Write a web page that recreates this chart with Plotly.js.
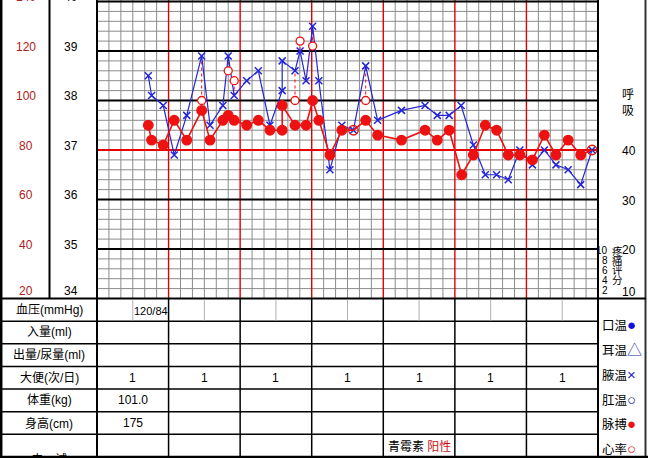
<!DOCTYPE html>
<html><head><meta charset="utf-8">
<script src="https://cdn.plot.ly/plotly-3.0.1.min.js"></script>
<style>html,body{margin:0;padding:0;background:#fff}#chart{width:648px;height:458px}</style>
</head><body><div id="chart"></div>
<script>
// ---------------- DATA ----------------
// time axis: hours since start of the 7-day sheet
const tempHours = [17.2,18.3,22.2,25.9,30.1,35.1,37.9,42.2,44.0,46.0,50.2,54.1,58.0,62.1,62.1,66.4,68.1,70.1,72.3,74.4,78.1,82.1,86.0,90.1,94.1,102.1,110.0,114.1,118.1,122.1,126.2,130.2,134.0,137.9,141.8,146.0,150.0,153.9,158.0,162.2,166.0];
const axillaryTemp = [38.5,38.1,37.9,36.9,37.7,38.9,37.5,37.9,38.9,38.1,38.4,38.6,37.5,38.2,38.8,38.6,39.0,38.4,39.5,38.4,36.6,37.5,37.4,38.7,37.6,37.8,37.9,37.7,37.7,37.9,37.1,36.5,36.5,36.4,37.0,36.7,37.0,36.7,36.6,36.3,37.0];

const pulseHours = [17.2,18.3,22.2,25.9,30.1,35.1,37.9,42.2,44.0,46.0,50.2,54.1,58.0,62.1,62.1,66.4,70.1,72.3,74.4,78.1,82.1,86.0,90.1,94.1,102.1,110.0,114.1,118.1,122.3,126.2,130.2,134.0,137.9,141.8,146.0,150.0,153.9,158.0,162.2,166.0];
const pulseRate = [90,84,82,92,84,96,84,92,94,92,90,92,88,88,98,90,90,100,92,78,88,88,92,86,84,88,84,88,70,78,90,88,78,78,76,86,78,84,78,80];

// temperature after physical cooling (red circles, dotted link to the reading before)
const coolHours = [35.1,44.0,46.0,66.4,68.1,72.3,90.1];
const coolTemp = [38.0,38.6,38.4,38.0,39.2,39.1,38.0];

// axis tick labels
const tempTicks = [34,35,36,37,38,39,40];
const pulseTicks = [20,40,60,80,100,120,140];
const respTicks = [10,20,30,40];
const painTicks = [10,8,6,4,2];
const painChars = ['疼','痛','评','分',''];

// table
const rowLabels = ['血压(mmHg)','入量(ml)','出量/尿量(ml)','大便(次/日)','体重(kg)','身高(cm)','皮　试'];
const bpHours = [18];
const bpValues = ['120/84'];
const stoolPerDay = ['1','1','1','1','1','1','1'];
const weightPerDay = ['101.0'];
const heightPerDay = ['175'];
const skinTestDay = 4;
const skinTestDrug = '青霉素';
const skinTestResult = '阳性';

const legendNames = ['口温','耳温','腋温','肛温','脉搏','心率'];
const legendSymbols = ['●','△','×','○','●','○'];
const legendColors = ['#1010e0','#2030b0','#2424d0','#2030a0','#ee1111','#ee1111'];

// ---------------- LAYOUT HELPERS ----------------
const W = 648, H = 458;
const px = x => x / W, py = y => 1 - y / H;
const PL = 97, PR = 598, PB = 298.5;
const NUM = 'Liberation Sans, Arial, Noto Sans CJK SC, sans-serif';
const BLUE = '#2424d8', RED = '#ee1111';
const days = 7, hoursTotal = 168;
const rowH = (457 - PB) / rowLabels.length;
const rowC = i => PB + (i + 0.5) * rowH;
const yTop = 40 + 1.5 / 49.5;

// ---------------- TRACES ----------------
const linkX = [], linkY = [];
coolHours.forEach((h, i) => {
  let j = tempHours.findIndex(t => Math.abs(t - h) < 0.05);
  if (j >= 0) { linkX.push(h, h, null); linkY.push(coolTemp[i], axillaryTemp[j], null); }
});

const pulseSymbols = pulseHours.map((h, i) => {
  const j = tempHours.findIndex(t => Math.abs(t - h) < 0.05);
  const eq = pulseRate[i] / 20 + 33;
  return (j >= 0 && Math.abs(axillaryTemp[j] - eq) < 0.05) ? 'circle-open' : 'circle';
});

const traces = [
  {x: linkX, y: linkY, mode: 'lines', yaxis: 'y', line: {color: RED, width: 1, dash: 'dot'}, hoverinfo: 'skip'},
  {x: pulseHours, y: pulseRate, yaxis: 'y2', mode: 'lines+markers', name: '脉搏',
   line: {color: RED, width: 1.6},
   marker: {symbol: pulseSymbols, size: 9.5, color: RED, line: {color: RED, width: 1.4}}},
  {x: tempHours, y: axillaryTemp, yaxis: 'y', mode: 'lines+markers', name: '腋温',
   line: {color: BLUE, width: 1.2},
   marker: {symbol: 'x-thin', size: 7, color: BLUE, line: {color: BLUE, width: 1.5}}},
  {x: coolHours, y: coolTemp, yaxis: 'y', mode: 'markers', name: '降温',
   marker: {symbol: 'circle', size: 8, color: '#ffffff', line: {color: RED, width: 1.3}}}
];

// ---------------- SHAPES ----------------
const shapes = [];
const L = (x0, y0, x1, y1, color, width, layer) => shapes.push({type: 'line', xref: 'paper', yref: 'paper',
  x0: px(x0), y0: py(y0), x1: px(x1), y1: py(y1), line: {color, width}, layer: layer || 'above'});
// chart grid, drawn on the axis scales (below traces)
const VX = (h, color, width) => shapes.push({type: 'line', xref: 'x', yref: 'paper', x0: h, x1: h, y0: py(PB), y1: 1,
  line: {color, width}, layer: 'below'});
const HY = (t, color, width) => shapes.push({type: 'line', xref: 'paper', yref: 'y', x0: px(PL), x1: px(PR), y0: t, y1: t,
  line: {color, width}, layer: 'below'});
for (let h = 4; h < hoursTotal; h += 4) if (h % 24) VX(h, '#8c8c8c', 1);
for (let k = 1; k < 30; k++) if (k % 5) HY(34 + k * 0.2, '#8c8c8c', 1);
for (let d = 1; d < days; d++) VX(d * 24, '#e00000', 1.4);
[35, 36, 38, 39, 40].forEach(t => HY(t, '#000', 2));
HY(37, '#e80000', 2);
// borders
L(1.2, 0, 1.2, 458, '#000', 2.5);
L(645.5, 0, 645.5, 458, '#333', 2);
L(0, 457, 648, 457, '#000', 2.5);
L(49.5, 0, 49.5, PB, '#000', 2);
L(PL, 0, PL, 457, '#000', 2);
L(PR, 0, PR, 457, '#000', 2);
L(0, PB, 646, PB, '#000', 2);
// table rows
for (let i = 1; i < rowLabels.length; i++) L(0, PB + i * rowH, PR, PB + i * rowH, '#000', 1.5);
// table day columns
const dayW = (PR - PL) / days;
for (let d = 1; d < days; d++) L(PL + d * dayW, PB, PL + d * dayW, 457, '#000', 1.5);
// BP half-day lines
for (let d = 0; d < days; d++) L(PL + (d + 0.5) * dayW, PB + 1, PL + (d + 0.5) * dayW, PB + rowH - 0.5, '#b0b0b0', 1);

// ---------------- ANNOTATIONS ----------------
const ann = [];
const A = o => ann.push(Object.assign({showarrow: false, xanchor: 'center', yanchor: 'middle',
  font: {family: NUM, size: 12, color: '#000'}}, o));
tempTicks.forEach(t => A({xref: 'paper', x: px(71), yref: 'y', y: t, text: String(t), yshift: t === 34 ? 7.5 : 4.5}));
pulseTicks.forEach(p => A({xref: 'paper', x: px(26), yref: 'y2', y: p, text: String(p), yshift: p === 20 ? 7.5 : 4.5,
  font: {family: NUM, size: 12, color: '#b02020'}}));
respTicks.forEach(r => A({xref: 'paper', x: px(628.5), yref: 'y3', y: r, text: String(r), yshift: r === 10 ? 6.5 : -1}));
painTicks.forEach((p, i) => {
  A({xref: 'paper', x: px(609.5), xanchor: 'right', yref: 'y4', y: p, text: String(p), yshift: -1.5, font: {family: NUM, size: 10, color: '#000'}});
  if (painChars[i]) A({xref: 'paper', x: px(609.5), xanchor: 'left', yref: 'y4', y: p, text: painChars[i], yshift: -1.5, font: {family: NUM, size: 10.5, color: '#000'}});
});
A({xref: 'paper', x: px(628), yref: 'paper', y: py(103), text: '呼<br>吸', font: {family: NUM, size: 12, color: '#000'}});

rowLabels.forEach((t, i) => A({xref: 'paper', x: px(49), yref: 'paper', y: py(i === rowLabels.length - 1 ? 459 : rowC(i)), text: t}));
bpValues.forEach((v, i) => A({xref: 'x', x: bpHours[i], yref: 'paper', y: py(rowC(0) + 1), text: v, font: {family: NUM, size: 11, color: '#000'}}));
stoolPerDay.forEach((v, d) => A({xref: 'x', x: d * 24 + 12, yref: 'paper', y: py(rowC(3)), text: v}));
weightPerDay.forEach((v, d) => A({xref: 'x', x: d * 24 + 12, yref: 'paper', y: py(rowC(4)), text: v}));
heightPerDay.forEach((v, d) => A({xref: 'x', x: d * 24 + 12, yref: 'paper', y: py(rowC(5)), text: v}));
A({xref: 'x', x: skinTestDay * 24, xshift: 3, xanchor: 'left', yref: 'paper', y: py(446.5),
   text: skinTestDrug + ' <span style="color:#d01010">' + skinTestResult + '</span>'});
const legY = [324, 349, 374, 399, 423.5, 448];
legendNames.forEach((n, i) => A({xref: 'paper', x: px(599.5), xanchor: 'left', yref: 'paper', y: py(legY[i]),
  text: n + '<span style="color:' + legendColors[i] + ';font-size:15px">' + legendSymbols[i] + '</span>', font: {family: NUM, size: 12.5, color: '#000'}}));

// ---------------- LAYOUT ----------------
const layout = {
  width: W, height: H, margin: {l: 0, r: 0, t: 0, b: 0, pad: 0},
  paper_bgcolor: '#fff', plot_bgcolor: '#fff', showlegend: false,
  xaxis: {domain: [px(PL), px(PR)], range: [0, hoursTotal], showgrid: false,
    showticklabels: false, ticks: '', zeroline: false, showline: false, fixedrange: true},
  yaxis: {domain: [py(PB), 1], range: [34, yTop], showgrid: false,
    showticklabels: false, ticks: '', zeroline: false, fixedrange: true},
  yaxis2: {overlaying: 'y', range: [20, 20 * (yTop - 33)], visible: false, fixedrange: true},
  yaxis3: {overlaying: 'y', range: [10, 10 * (yTop - 33)], visible: false, fixedrange: true},
  yaxis4: {overlaying: 'y', range: [0, 10 * (yTop - 34)], visible: false, fixedrange: true},
  shapes: shapes, annotations: ann
};
Plotly.newPlot('chart', traces, layout, {staticPlot: true, displayModeBar: false});
</script></body></html>
